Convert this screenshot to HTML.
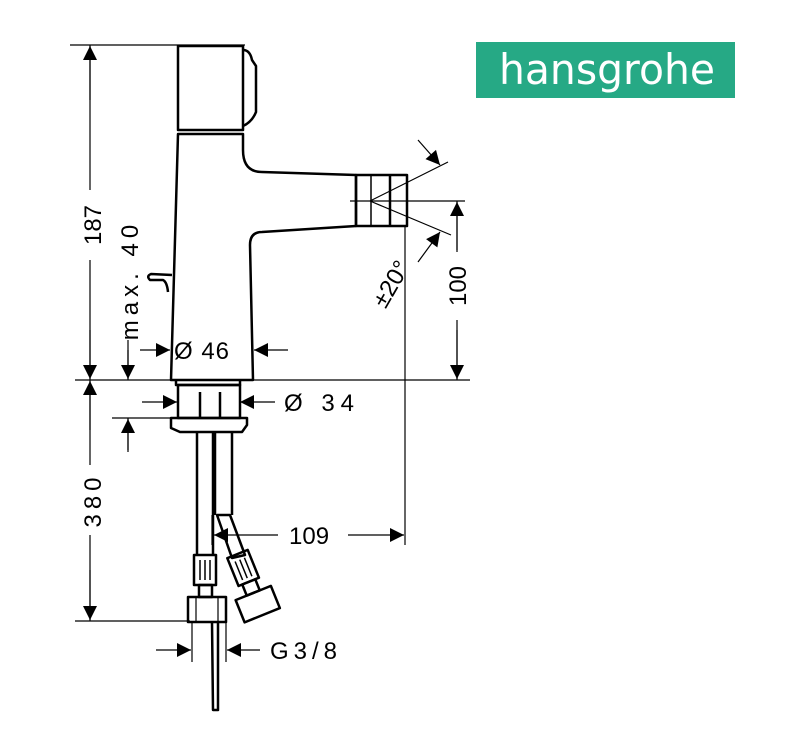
<!DOCTYPE html>
<html><head><meta charset="utf-8"><style>
html,body{margin:0;padding:0;background:#fff;width:791px;height:742px;overflow:hidden}
svg text{font-family:"Liberation Sans",sans-serif;fill:#000}
</style></head><body>
<svg width="791" height="742" viewBox="0 0 791 742" xmlns="http://www.w3.org/2000/svg">
<defs>
<marker id="a" viewBox="0 0 10 10" refX="10" refY="5" markerWidth="16" markerHeight="14" markerUnits="userSpaceOnUse" orient="auto"><path d="M0,0 L10,5 L0,10Z" fill="#000"/></marker>
</defs>
<rect x="476" y="42" width="259" height="56" fill="#26a985"/>
<text x="607" y="84" font-size="42" text-anchor="middle" style="fill:#fff;font-family:'DejaVu Sans',sans-serif" textLength="216" lengthAdjust="spacingAndGlyphs">hansgrohe</text>

<g stroke="#000" fill="none" stroke-width="1.2">
<line x1="70" y1="45" x2="245" y2="45"/>
<line x1="75" y1="380" x2="470" y2="380"/>
<line x1="75" y1="621" x2="190" y2="621"/>
<line x1="90" y1="45" x2="90" y2="190"/><line x1="90" y1="260" x2="90" y2="380"/>
<line x1="90" y1="380" x2="90" y2="465"/><line x1="90" y1="535" x2="90" y2="621"/>
<line x1="457" y1="201" x2="457" y2="252"/><line x1="457" y1="320" x2="457" y2="380"/>
<line x1="128" y1="340" x2="128" y2="380"/>
<line x1="128" y1="418" x2="128" y2="452"/>
<line x1="112" y1="418" x2="180" y2="418"/>
<line x1="405" y1="226" x2="405" y2="545"/>
<line x1="350" y1="201" x2="465" y2="201"/>
<line x1="370" y1="201" x2="448" y2="162"/><line x1="370" y1="201" x2="451" y2="235"/>
<line x1="212" y1="515" x2="212" y2="545"/>
<line x1="192" y1="622" x2="192" y2="662"/><line x1="226" y1="622" x2="226" y2="662"/>
</g>
<g stroke="#000" stroke-width="1.2" marker-end="url(#a)">
<line x1="90" y1="100" x2="90" y2="46"/><line x1="90" y1="330" x2="90" y2="379"/>
<line x1="90" y1="430" x2="90" y2="381"/><line x1="90" y1="570" x2="90" y2="620"/>
<line x1="457" y1="250" x2="457" y2="202"/><line x1="457" y1="330" x2="457" y2="379"/>
<line x1="128" y1="350" x2="128" y2="379"/><line x1="128" y1="450" x2="128" y2="419"/>
<line x1="140" y1="350" x2="170" y2="350"/><line x1="288" y1="350" x2="254" y2="350"/>
<line x1="142" y1="402" x2="177" y2="402"/><line x1="275" y1="402" x2="240" y2="402"/>
<line x1="278" y1="535" x2="214" y2="535"/><line x1="348" y1="535" x2="404" y2="535"/>
<line x1="156" y1="650" x2="191" y2="650"/><line x1="260" y1="650" x2="227" y2="650"/>
<line x1="418" y1="140" x2="440" y2="165"/><line x1="418" y1="262" x2="440" y2="232"/>
</g>

<g stroke="#000" fill="none" stroke-width="2.5" stroke-linejoin="round">
<rect x="178" y="46" width="65" height="84"/>
<path d="M243,50 Q250,50 252,60 L256,66 L256,112 Q252,122 243,126"/>
<path d="M178,134 L243,134 L243,150 Q243,172 262,172 L356,175 L356,226 L262,232 Q250,232 250,245 L253,380 L171,380 L178,134Z"/>
<rect x="356" y="175" width="51" height="51"/>
<line x1="371" y1="175" x2="371" y2="226" stroke-width="1.5"/>
<line x1="390" y1="175" x2="390" y2="226"/>
<path d="M172,275 L151,274 Q146,276 150,280 L163,280 Q167,282 168,292"/>
<path d="M176,380 L176,385 L240,385 L240,380"/>
<rect x="178" y="385" width="62" height="33"/>
<line x1="200" y1="392" x2="200" y2="418"/><line x1="220" y1="392" x2="220" y2="418"/>
<path d="M171,418 L247,418 L247,425 L242,432 L180,432 L171,428Z"/>
<line x1="197" y1="432" x2="197" y2="555"/><line x1="213" y1="432" x2="213" y2="555"/>
<line x1="215" y1="432" x2="215" y2="515"/><line x1="232" y1="432" x2="232" y2="515"/>
<path d="M217,515 L230,515 L245,555 L232,558Z"/>
<rect x="194" y="555" width="22" height="30"/>
<line x1="200" y1="560" x2="200" y2="580" stroke-width="1.5"/><line x1="205" y1="560" x2="205" y2="580" stroke-width="1.5"/><line x1="210" y1="560" x2="210" y2="580" stroke-width="1.5"/>
<rect x="199" y="585" width="13" height="12"/>
<rect x="188" y="597" width="38" height="25"/>
<line x1="196" y1="597" x2="196" y2="622" stroke-width="1.2"/><line x1="218" y1="597" x2="218" y2="622" stroke-width="1.2"/>
<g transform="rotate(-22 248 580)">
<rect x="237" y="552" width="22" height="30"/>
<rect x="241" y="582" width="14" height="12"/>
<rect x="229" y="594" width="38" height="24"/>
<line x1="243" y1="558" x2="243" y2="578" stroke-width="1.5"/><line x1="248" y1="558" x2="248" y2="578" stroke-width="1.5"/><line x1="253" y1="558" x2="253" y2="578" stroke-width="1.5"/>
</g>
<path d="M212,622 L213,710 L218,710 L218,622"/>
</g>

<g font-size="24">
<text x="174" y="359" letter-spacing="1">Ø 46</text>
<text x="284" y="411" letter-spacing="6">Ø 34</text>
<text x="289" y="544">109</text>
<text x="270" y="659" letter-spacing="5">G3/8</text>
<text transform="translate(101,225) rotate(-90)" text-anchor="middle">187</text>
<text transform="translate(101,500) rotate(-90)" text-anchor="middle" letter-spacing="5">380</text>
<text transform="translate(466,286) rotate(-90)" text-anchor="middle">100</text>
<text transform="translate(138,280) rotate(-90)" text-anchor="middle" letter-spacing="5">max. 40</text>
<text transform="translate(398,288) rotate(-60)" text-anchor="middle">±20°</text>
</g>
</svg>
</body></html>
